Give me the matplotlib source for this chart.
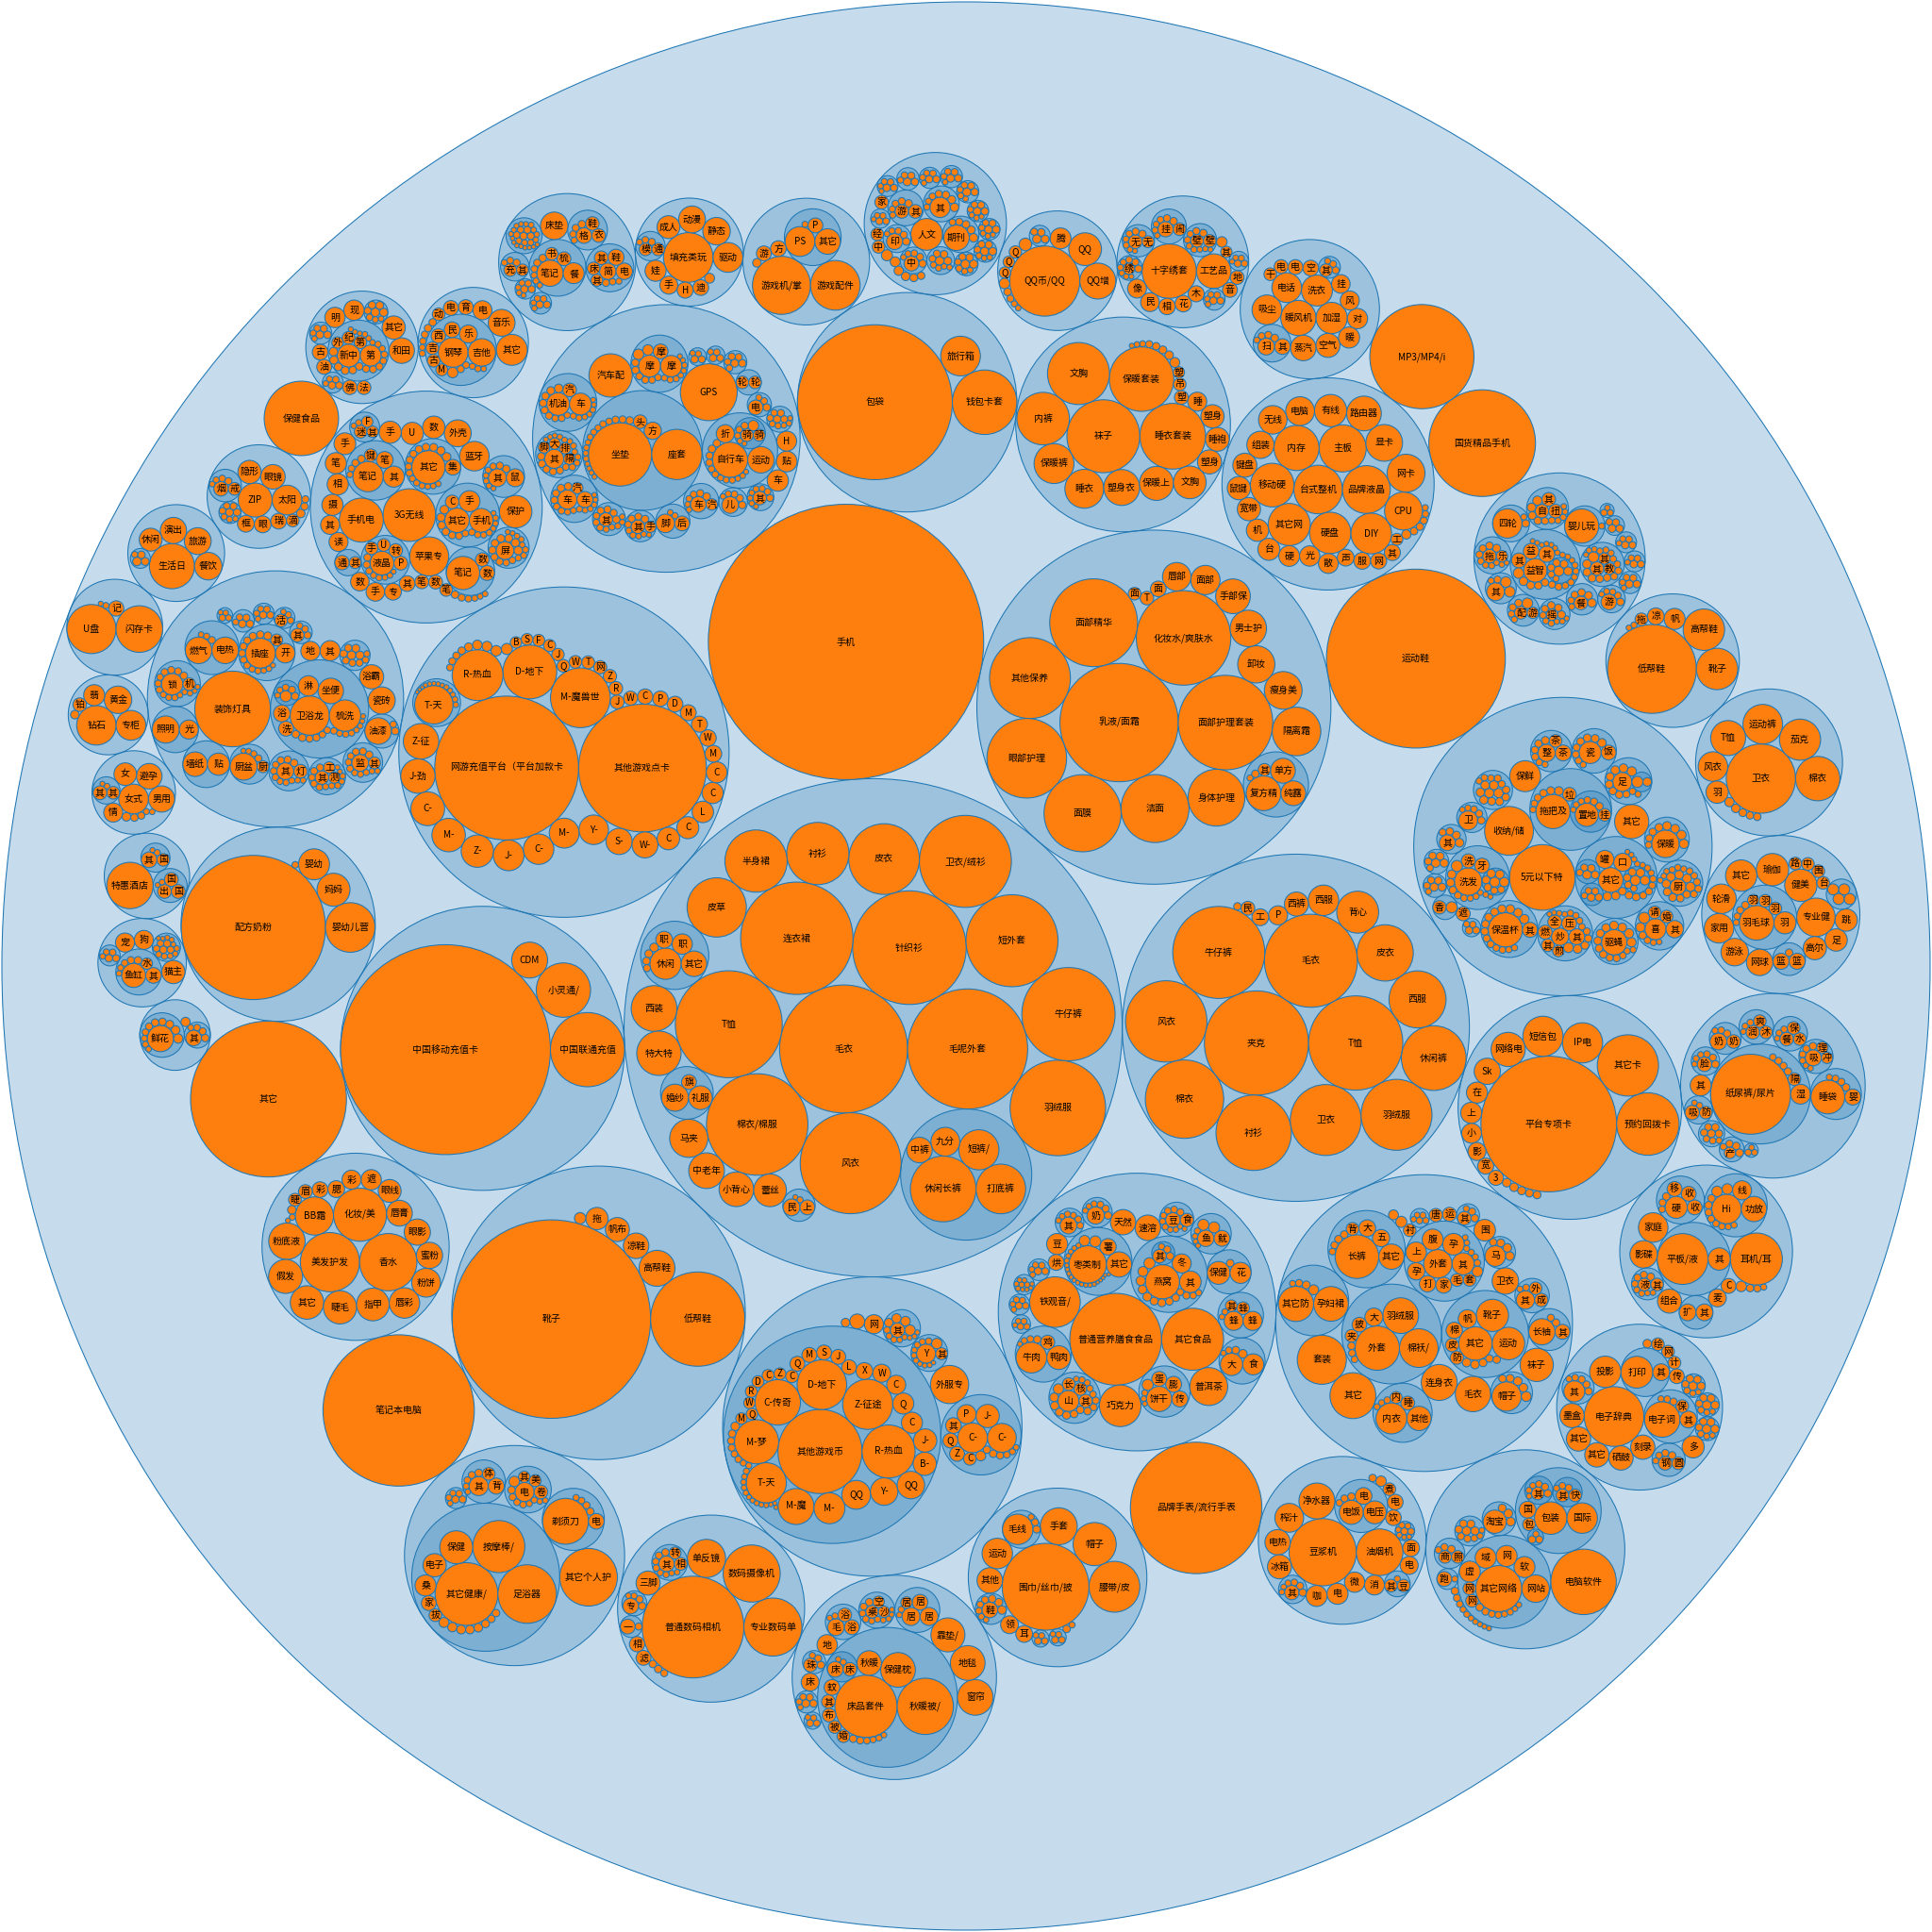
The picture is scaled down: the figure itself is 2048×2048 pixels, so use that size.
import math
import matplotlib
matplotlib.use("Agg")
import matplotlib.pyplot as plt
from matplotlib.patches import Circle
from matplotlib.collections import PatchCollection

# ---------------- data (leaf values; plain numbers = unlabeled tiny leaves) ----------------
WOMEN = [("毛衣", 2663), ("毛呢外套", 2343), ("针织衫", 2098), ("连衣裙", 2052), ("T恤", 1858),
         ("棉衣/棉服", 1673), ("风衣", 1656), ("羽绒服", 1482), ("牛仔裤", 1414), ("短外套", 1376),
         ("卫衣/绒衫", 1376), ("皮衣", 812), ("衬衫", 630), ("半身裙", 630), ("皮草", 571), ("西装", 340),
         ("特大特小", 320), ("马夹", 237), ("中老年服装", 207), ("小背心/吊带", 195), ("蕾丝衫", 174),
         ("裤子", [("休闲长裤", 702), ("打底裤", 400), ("短裤/热裤", 262), ("九分裤", 135), ("中裤/五分裤", 106)]),
         ("职业套装", [("休闲套装", 159), ("其它套装", 106), ("职业裙装", 67), ("职业裤装", 46), 12, 10, 9, 8]),
         ("礼服", [("婚纱", 119), ("礼服/晚装", 92), ("旗袍", 36)]),
         ("民族", [("民族服装", 46), ("上衣", 36), 6, 4])]

MEN = [("夹克", 1764), ("T恤", 1444), ("毛衣", 1406), ("牛仔裤", 1376), ("风衣", 1076), ("棉衣", 999),
       ("衬衫", 924), ("卫衣", 818), ("羽绒服", 818), ("休闲裤", 681), ("西服", 529), ("皮衣", 515),
       ("背心", 286), ("西服套装", 151), ("西裤", 94), ("POLO衫", 59), ("工装制服", 46), ("民族服装", 31), 9]

BEAUTY = [("乳液/面霜", 2275), ("面部护理套装", 1452), ("化妆水/爽肤水", 1452), ("面部精华", 1253),
          ("其他保养", 1063), ("眼部护理", 1030), ("面膜", 967), ("洁面", 751), ("身体护理", 524),
          ("隔离霜", 384), ("卸妆", 225), ("瘦身美体", 231), ("男士护理", 216), ("手部保养", 196),
          ("面部护理", 139), ("唇部护理", 132), ("面部", 40), ("面膜粉", 26), ("T区护理", 30),
          ("精油", [("复方精油", 196), ("纯露", 100), ("单方精油", 100), ("其它", 25), 9, 6])]

NETGAME = [("网游充值平台（平台加款卡）", 3364), ("其他游戏点卡", 2652), ("M-魔兽世界", 581),
           ("D-地下城与勇士", 471), ("R-热血江湖", 420),
           ("天", [("T-天龙八部", 240), 5, 5, 4, 4, 4, 3, 3, 3, 3, 3, 2, 2, 2]),
           ("Z-征途", 205), ("J-劲舞团", 192), ("C-传奇", 186), ("M-魔域", 182), ("Z-诛仙", 170),
           ("J-剑侠情缘", 154), ("C-穿越火线", 151), ("M-梦幻西游", 145), ("Y-永恒之塔", 142),
           ("S-神鬼传奇", 112), ("W-问道", 110), ("C-传奇外传", 82), ("C-赤壁", 79), ("L-龙之谷", 75),
           ("C-成吉思汗", 73), ("C-春秋", 71), ("M-魔力宝贝", 46), ("W-完美", 44), ("T-天下", 42),
           ("M-梦幻", 41), ("D-大话西游", 40), ("P-跑跑", 39), ("C-创世", 38), ("W-武林", 32),
           ("J-街头篮球", 31), ("R-热舞", 30), ("Z-征服", 29), ("网易一卡通", 28), ("T-天堂", 27),
           ("W-万王之王", 26), ("Q-QQ三国", 26), ("J-巨人", 25), ("C-传世", 24), ("F-封神", 23),
           ("S-水浒", 22), ("B-霸王", 21), ("S-仙剑", 20), ("X-寻仙", 18), ("X-新天", 16), ("P-破天", 15),
           11, 9, 8, 8, 7]

GAMECOIN = [("游戏币区", [("其他游戏币", 1150), ("R-热血江湖", 458), ("Z-征途", 408), ("D-地下城", 400),
                          ("C-传奇", 335), ("M-梦幻西游", 317), ("T-天龙八部", 262), ("M-魔兽世界", 210),
                          ("M-魔域", 156), ("QQ三国", 135), ("Y-永恒", 123), ("QQ华夏", 123), ("B-霸王", 88),
                          ("J-剑侠", 88), ("C-赤壁", 72), ("Q-奇迹", 72), ("C-春秋", 59), ("W-问道", 53),
                          ("X-寻仙", 46), ("L-龙之谷", 36), ("J-街头", 36), ("S-神鬼", 36), ("M-魔力", 36),
                          ("W-武林", 21), ("Q-倩女", 21), ("M-梦想", 21), ("Z-诛仙", 23), ("C-创世", 23),
                          ("C-传世", 26), ("D-大话", 23), ("R-热舞", 23), ("Q-QQ", 36), ("T-天下", 12),
                          9, 8, 8, 7, 7, 6, 6, 6, 5, 5, 5, 5, 4, 4, 4, 4, 4, 3, 3, 3]),
            ("外服专区", 237),
            ("币2", [("C-传奇", 144), ("C-CF", 135), ("J-剑侠", 88), ("P-跑跑", 59), ("Q-QQ", 36),
                     ("C-春秋", 26), ("Z-征途", 36), ("其它", 40), ("I", 16), 9, 9, 8, 7, 6, 5]),
            ("币3", [("Y-永恒", 59), ("M-魔兽", 18), ("其它", 23), 7, 6, 6, 5, 5, 5, 4, 4, 4, 3]),
            ("币4", [("其它", 34), ("M-魔力", 14), ("Y-永恒", 15), ("M-梦幻", 12), ("M-魔域", 18),
                     7, 6, 6, 5, 5, 4, 4, 4]),
            ("网页游戏", 59), 36, 12]

FOOD = [("普通营养膳食食品", 1369), ("其它食品", 625), ("铁观音/乌龙茶", 416), ("巧克力", 282), ("普洱茶", 234),
        ("枣", [("枣类制品", 228), ("其它", 104), ("薯片", 44), ("芒果干", 18), 20,
                4, 4, 4, 4, 4, 3, 3, 3, 3, 3, 3, 3, 3, 3, 3, 2, 2, 2, 2, 2]),
        ("燕", [("燕窝", 190), ("其它", 76), ("冬虫夏草", 59), ("其类", [("其它", 30), 9, 8, 6]), ("其它", 20),
                16, 14, 12, 12, 10, 10, 9, 9, 8, 8, 7, 6]),
        ("肉", [("牛肉干", 154), ("鸭肉", 92), ("鸡肉", 32), 9, 7, 6, 4]),
        ("饼", [("饼干", 104), ("传统糕点", 42), ("膨化食品", 41), ("蛋糕", 36), ("其它", 20), 6, 5, 4]),
        ("坚果", [("山核桃", 72), ("核桃", 26), ("其它", 29), ("长寿果", 26), ("香榧", 17),
                  12, 11, 10, 10, 9, 9, 9, 8, 8, 7, 7, 6, 6, 5]),
        ("蜂", [("蜂蜜", 59), ("蜂王浆", 59), ("蜂胶", 26), ("其它", 22), 6, 5]),
        ("茶", [("保健茶", 85), ("花草茶", 72), 9]),
        ("蟹", [("大闸蟹", 81), ("食用油", 72), 12, 9, 7, 5]),
        ("海", [("鱿鱼", 41), ("鱼干", 44), ("其它", 20), ("海参", 20), 6, 5, 4, 4]),
        ("天然粉", 104), ("速溶咖啡", 106),
        ("豆类", [("豆制品", 35), ("食用菌", 29), 8, 7, 7, 6, 6, 6, 5, 5, 4, 4]),
        ("奶", [("奶制品", 49), 9, 8, 7, 6, 5, 5]),
        ("其", [("其它", 46), 7, 7, 6, 6, 5, 5]),
        ("豆子", 72),
        ("零1", [5, 5, 4, 4, 4, 4, 3, 3, 3, 3]),
        ("烘焙", 41),
        ("零2", [8, 7, 6, 6, 5, 5]), ("零3", [9, 8, 7, 6, 5, 5]), ("零4", [7, 6, 6, 5, 4])]

KIDS = [("套装", 392), ("其它", 342), ("连身衣", 210), ("毛衣", 204), ("袜子", 180), ("卫衣", 114), ("围巾", 76),
        ("外", [("外套", 320), ("棉袄/棉服", 243), ("羽绒服", 207), ("大衣", 53), ("披风", 35), ("夹克", 26), 9, 8, 7]),
        ("鞋", [("其它", 182), ("运动鞋", 172), ("靴子", 169), ("帆布鞋", 55), ("棉鞋", 44), ("皮鞋", 29),
                ("防滑鞋", 29), 12, 12, 10, 9, 9]),
        ("裤", [("长裤", 310), ("其它", 104), ("五分裤", 48), ("大裤", 46), ("背带裤", 26), 9, 9, 8, 7]),
        ("孕", [("其它防辐射", 202), ("孕妇裙", 196), 16, 10, 8, 6]),
        ("孕服", [("外套", 132), ("孕妇裤", 76), ("其它", 79), ("上衣", 69), ("腹带", 72), ("毛衣", 26),
                  ("家居服", 41), ("打底裤", 44), ("孕妇装", 49), ("套装", 26), ("背心", 18), 7, 6, 6, 6, 5, 5]),
        ("内", [("内衣", 156), ("其他", 96), ("睡衣", 31), ("内裤", 23), 7, 6, 6]),
        ("帽", [("帽子", 140), 16, 12, 12, 10, 9]),
        ("袖", [("长袖", 112), ("其它", 36), 9, 8]),
        ("马", [("马甲", 69), 12, 12, 10, 9]),
        ("成", [("其它", 55), ("成人", 29), ("外套", 26), 7, 6]),
        ("其2", [("其它", 30), 9, 8, 6]),
        ("唐装", 29), ("运动服", 32), ("衬衫", 26), ("兜", [7, 6, 6, 5, 5]), ("肚兜", 16), 20]

HOME = [("5元以下特价商品", 700), ("收纳/储物", 388), ("其它", 190), ("保鲜", 156),
        ("卫", [("卫浴", 59), 9, 8, 7, 6, 5]),
        ("拖", [("拖把及配件", 190), ("置", [("置地清洁", 88), ("挂钩", 26), 9, 8, 7, 6, 6, 5]), ("垃圾桶", 30),
                12, 10, 9, 8, 7, 6]),
        ("洗", [("洗发水", 123), ("洗衣", 32), ("牙刷", 36), ("沐浴", 20), ("洗2", [16, 14, 12, 12, 10, 9, 8, 8]),
                12, 11, 9, 8, 7, 6, 6, 5, 5, 4]),
        ("日", [("其它", 100), ("口罩", 53), ("罐子", 53), ("日2", [16, 14, 12, 10, 9, 8, 7]),
                ("日3", [12, 10, 9, 8, 7]), ("日4", [10, 9, 8, 7, 6]),
                12, 11, 10, 9, 9, 8, 8, 7, 7, 6, 6, 5, 5, 5, 4, 4]),
        ("锅", [("炒锅", 49), ("其它", 41), ("全套", 32), ("压力锅", 36), ("煎锅", 21), ("蒸锅", 16), ("燃气灶", 32),
                ("其它锅", 26), 12, 10, 9, 8, 7, 7, 6, 6, 5, 5, 4, 4]),
        ("杯", [("保温杯", 190), ("其它", 37), 14, 12, 12, 11, 10, 10, 9, 9, 8, 8, 7, 7, 6, 6]),
        ("足", [("足浴", 59), ("沐", [("木桶", 12), ("沐浴露", 20)]), 14, 12, 12, 10, 10, 9, 9, 8, 7, 6]),
        ("喜", [("喜庆用品", 72), ("其它", 49), ("婚庆", 26), ("请柬", 26), ("气球", 20), ("孔明灯", 14), 9, 7, 6, 5]),
        ("驱", [("驱蝇/驱蚊", 104), 14, 14, 12, 12, 11, 10, 10, 9, 9, 8, 8, 7, 6, 6]),
        ("暖", [("保暖贴", 123), 14, 14, 12, 12, 10, 9, 8, 7]),
        ("厨", [("厨房用品", 41), 14, 13, 12, 12, 11, 10, 10, 9, 9, 8, 8, 8, 7, 7, 6, 6, 6, 5, 5, 5]),
        ("瓷", [("瓷器", 79), ("饭盒", 36), 12, 10, 10, 9, 8, 8, 7, 6]),
        ("茶", [("整套茶具", 49), ("茶杯", 41), ("茶盘", 26), 10, 9, 8, 8, 7, 6]),
        ("雨", [14, 14, 13, 12, 12, 11, 10, 10, 9, 9, 8, 8, 7, 7, 6]),
        ("其2", [("其它", 41), 12, 10, 9, 8]),
        ("小1", [12, 11, 10, 9, 8, 7]), ("小2", [11, 10, 9, 8, 7, 6]),
        ("香", [("香薰", 29), 20]), ("遮阳", 32), ("小3", [9, 8, 7, 6])]

SPORT = [("专业健身", 240),
         ("羽", [("羽毛球拍", 195), ("羽毛球", 79), ("羽毛球鞋", 26), ("羽毛球服", 21), ("羽毛球包", 26), 9, 8, 7, 6]),
         ("健美操", 170), ("瑜伽", 170), ("其它运动", 160), ("轮滑/滑板", 142), ("足球", 81), ("跳舞", 81),
         ("网球", 114), ("家用健身", 142), ("游泳", 123), ("篮", [("篮球", 42), ("篮球鞋", 42), 9]),
         ("高尔夫", 88), ("台球", 26), ("围棋", 26), ("中国象棋", 26), ("路跑", 26),
         ("乒", [("乒乓球拍", 20), ("乒乓球", 20), ("乒乓球台", 20), ("乒乓球鞋", 20)])]

BABY = [("尿", [("纸尿裤/尿片", 1040), ("隔尿垫", 26), ("湿巾", 64), 9, 8, 8, 7]),
        ("睡", [("睡袋", 185), ("婴儿床", 42), 9, 8, 7, 6]),
        ("喂", [("水杯", 26), ("餐具", 30), ("保温", 26), 7, 6, 5]),
        ("沐", [("沐浴", 26), ("润肤", 30), ("爽身粉", 26), 7, 6, 5]),
        ("吸", [("吸奶器", 42), ("冲奶", 21), ("理发", 21), 9, 8, 7, 6, 5, 5]),
        ("奶", [("奶瓶", 46), ("奶嘴", 30), 8, 7, 6]),
        ("防", [("吸管", 34), ("防溢乳垫", 26), 6, 5]),
        ("脸", [("脸盆", 34), 9, 8, 7, 6, 6, 5]),
        ("其它", 72),
        ("产", [("产妇用品", 21), 10, 9, 8, 7]),
        ("小", [10, 9, 9, 8, 8, 7, 7, 6]), ("小2", [7, 6, 5])]

OFFICE = [("电子辞典", 580), ("投影", 160),
          ("电", [("电子词典", 205), ("其它", 46), ("保险箱", 26), 8, 7, 6]),
          ("打", [("打印机", 165), ("其它", 46)]),
          ("钢", [("钢笔", 30), ("圆珠笔", 26), 9, 8, 7, 6]),
          ("墨盒", 96), ("多功能", 80), ("其它", 96), ("其它2", 96), ("硒鼓", 96), ("刻录", 96),
          ("其3", [("其它", 72), 9, 8, 8, 7, 6]),
          ("计算器", 26), ("网络", 26), ("传真", 36), ("绘图", 26),
          ("小1", [12, 10, 9, 9, 8, 7, 6, 5]), ("小2", [12, 11, 10, 9, 8, 7, 6, 5]),
          ("小3", [12, 11, 10, 9, 8, 7, 6, 5]), ("与", 12)]

DIGITAL = [("耳机/耳麦", 440), ("平", [("平板/液晶电视", 420), ("其他", 81)]),
           ("家庭影院", 142), ("影碟机", 123), ("组合音响", 94), ("麦克风", 52), ("CD机", 36), 18, 9, 8, 6,
           ("扩", [("扩音器", 46), ("其它", 46)]),
           ("液", [("液晶配件", 26), ("其它", 26), 9, 8, 8, 7, 6, 6, 5, 5]),
           ("硬", [("硬盘播放器", 79), ("收音机", 36), ("收录机", 36), ("移动", 36), 9, 8, 7]),
           ("Hi", [("Hi-Fi音响", 142), ("功放", 104), ("线材", 59), ("调音台", 18), ("HDMI", 18),
                   9, 9, 8, 8, 7, 7, 6, 6])]

NETSERV = [("电脑软件", 697),
           ("网", [("其它网络服务", 346), ("网站建设", 123), ("软件开发", 72), ("网店装修", 72), ("域名", 72),
                   ("虚拟主机", 72), ("网络推广", 26), ("网游代练", 26), 9, 8, 7, 7, 6, 6, 5, 5]),
           ("包", [("包装设计", 172), ("国际快递", 151), ("国内快递", 46), ("包裹", 26),
                   ("快", [("其它", 26), ("快递", 26), 8, 7, 6]), ("其", [("其它", 26), 9, 8, 7, 6, 6, 5]),
                   ("小", [9, 8, 6])]),
           ("淘", [("淘宝服务", 88), 12, 12, 10]),
           ("商", [("商务服务", 26), ("照片冲印", 26), 9, 8, 7]),
           ("跑", [("跑腿服务", 36), 6]),
           ("小", [12, 11, 10, 9, 9, 8, 8, 7, 6, 5]),
           9, 8, 7, 6, 6, 5, 5, 4, 4, 4]

KITCHEN = [("豆浆机", 734), ("油烟机", 353), ("净水器", 210), ("榨汁机", 135), ("电热水壶", 104), ("冰箱", 94),
           ("咖啡机", 72), ("电饼铛", 72), ("消毒柜", 64), ("微波炉", 67), ("电磁炉", 53), ("面包机", 46),
           ("饮水机", 40), ("电烤箱", 40), ("煮蛋器", 26),
           ("饭", [("电饭煲", 94), ("电压力锅", 85), ("电炖锅", 46), 9, 8, 7]),
           ("其", [("其它", 34), 9, 8, 7, 6, 5, 5]),
           ("豆", [("其它", 26), ("豆芽机", 26), 6]),
           ("小", [8, 7, 6, 6, 5, 5, 4, 4]), ("酸奶机", 18), 9]

RECHARGE = [("平台专项卡", 2992), ("预约回拨卡", 635), ("其它卡", 610), ("IP电话卡", 262), ("短信包", 262),
            ("网络电话", 190), ("Skype", 112), ("在线", 72), ("小灵通", 64), ("上网卡", 72), ("影视卡", 53),
            ("3G卡", 37), ("宽带", 42), 12, 12, 11, 10, 10]

MENSHOES = [("低帮鞋", 1282), ("靴子", 279), ("高帮鞋", 279), ("帆布鞋", 72), ("凉鞋", 46), ("拖鞋", 26), 6, 5]

SPORTSWEAR = [("卫衣", 780), ("棉衣", 320), ("茄克", 275), ("运动裤", 255), ("T恤", 199), ("风衣", 142),
              ("羽绒服", 81), 14, 12, 10, 9, 9]

TOYS = [("婴", [("婴儿玩具", 190), 6]), ("四", [("四轮车", 140), 9, 6]),
        ("益", [("益智玩具", 90), ("益智", 40), ("其它", 42), ("其它2", 36), ("拼图", 18),
                ("益2", [16, 12, 10, 9, 8, 7, 6]), 12, 10, 9, 9, 8, 8, 7, 7, 6, 6, 6, 5, 5, 5, 5, 4, 4, 4, 4, 4, 4]),
        ("自", [("自动玩具", 30), ("扭扭车", 30), ("其它", 30), 14, 12, 10, 9, 8, 7, 6, 6, 5, 5]),
        ("早", [("早教", 18), ("教具", 21), ("其它", 21), ("其它2", 30), 12, 10, 10, 9, 9, 8, 8, 7, 7, 6, 6, 6, 5, 5, 4]),
        ("配", [("配件", 26), ("游戏", 21), ("层", 18), 9, 8, 7, 6]),
        ("拖", [("拖拉玩具", 30), ("乐器玩具", 21), 10, 9, 8, 8, 7, 6, 6, 5, 5, 4]),
        ("摇", [("摇铃", 21), 10, 9, 9, 8, 7, 6, 6, 5, 5, 4]),
        ("餐", [("餐椅", 30), 12, 10, 9, 8, 7, 6]),
        ("游", [("游戏围栏", 40), 9, 7, 6, 6, 5]),
        ("背", [("背带", 18), ("出行", 18), ("其它", 52), 8, 6]),
        ("小1", [9, 8, 7, 6, 5]), ("小2", [10, 9, 8, 7]), ("小3", [7, 6, 5]),
        ("小4", [10, 9, 8, 7, 6, 5]), ("小5", [9, 8, 7, 6, 5])]

PC = [("品牌液晶", 372), ("台式整机", 384), ("主板", 361), ("内存", 331), ("硬盘", 279), ("DIY", 269),
      ("其它网络设备", 289), ("移动硬盘", 310), ("CPU", 234), ("网卡", 234), ("显卡", 219), ("路由器", 196),
      ("有线", 169), ("组装电脑", 121), ("电脑周边", 135), ("无线", 132), ("台机", 79), ("键盘", 94),
      ("鼠键套装", 88), ("宽带", 88), ("机箱", 81), ("硬盘盒", 70), ("光驱", 67), ("散热器", 64), ("声卡", 46),
      ("服务器", 46), ("网络存储", 42), ("其它", 42), ("工控机", 23), ("电源", 14), 9, 9, 8, 7, 6]

UNDERWEAR = [("袜子", 864), ("睡衣套装", 702), ("保暖套装", 676), ("文胸", 625), ("内裤", 449), ("保暖裤", 259),
             ("睡衣", 246), ("塑身衣", 210), ("保暖上衣", 188), ("文胸套装", 174), ("塑身裤", 94), ("睡袍", 92),
             ("塑身上衣", 88), ("睡裙", 59), ("塑身腰", 31), ("塑身", 21), ("吊带", 26), 16, 12, 10, 9, 8, 6, 5, 4]

CAR = [("坐", [("坐垫", 650), ("座套", 410), ("方向盘套", 49), ("头枕", 30),
               9, 8, 8, 7, 7, 6, 6, 6, 5, 5, 5, 5, 4, 4, 4, 4]),
       ("GPS", 525), ("汽车配件", 305),
       ("自", [("自行车", 200), ("运动", 114), ("折叠车", 53),
               ("骑", [("骑行服", 23), ("骑行包", 26), ("手套", 18), 8, 7, 6, 5, 4]), 9, 9, 8, 8, 7, 7, 6, 6, 6, 5, 5, 4]),
       ("机", [("机油", 84), ("车蜡", 78), ("汽车", 30), 12, 10, 9, 9, 8, 8, 7, 7, 6, 6, 6, 5, 5, 5, 4, 4]),
       ("摩", [("摩托车", 74), ("摩托配件", 78), ("摩托服", 36), ("赛车", 18), ("骑士", 18),
               9, 9, 8, 8, 7, 7, 6, 6, 6, 5, 5, 5, 4, 4]),
       ("隔", [("其它", 59), ("隔热膜", 21), ("排气", 21), ("大灯", 21), ("脚踏", 21),
               9, 9, 8, 8, 8, 7, 7, 6, 6, 6, 6, 5, 5, 5, 4, 4, 4]),
       ("载", [("车载电器", 59), ("车充", 42), ("汽车香水", 21), 9, 9, 8, 8, 7, 7, 6, 6, 6, 5, 5, 5, 4, 4]),
       ("脚", [("脚垫", 56), ("后备箱垫", 36), 6, 5]),
       ("饰", [("车饰", 40), ("汽车用品", 21), 9, 8, 7, 6, 5, 5]),
       ("其1", [("其它", 30), 9, 8, 8, 8, 7, 7, 7, 6, 6, 6, 5, 5]),
       ("其2", [("其它", 30), ("手机支架", 21), 9, 8, 8, 7, 6, 6, 5, 5, 4]),
       ("其3", [("其它", 30), 8, 7, 6, 6, 5, 5, 5, 4]),
       ("电", [("电子狗", 36), 9, 7, 6]),
       ("儿", [("儿童座椅", 46), 9, 8, 7, 6, 5]),
       ("贴纸", 70), ("HID", 65), ("车衣", 74),
       ("轮", [("轮胎", 26), ("轮毂", 26)]),
       ("小1", [10, 9, 8, 8, 7, 7]), ("小2", [9, 8, 6, 5]), ("小3", [9, 8, 7, 6]),
       ("小4", [9, 8, 8, 7, 7, 6, 6, 5, 5, 4])]

PHONEACC = [("3G无线上网卡", 450), ("手机电池", 315), ("苹果专用配件", 248), ("保护套", 172), ("外壳", 118),
            ("蓝牙耳机", 142),
            ("其1", [("其它", 180), ("集线器", 40), 12, 11, 10, 9, 9, 8, 8, 7, 7, 6, 6, 6, 5, 5, 5]),
            ("手", [("手机贴膜", 92), ("手写笔", 72), ("其它", 98), ("CF卡", 30),
                    12, 11, 10, 9, 8, 8, 7, 7, 6, 6, 6, 5, 5, 5, 4]),
            ("笔", [("笔记本电池", 150), ("其它", 72), ("键盘膜", 26), ("笔记本包", 46), 9, 8, 7, 6]),
            ("液", [("液晶保护", 92), ("U盘", 26), ("PDA", 31), ("转接头", 30), ("手机链", 26), 9, 8, 7, 6, 6, 5, 5, 4]),
            ("鼠", [("其它", 52), ("鼠标", 52), 9, 8, 7, 6, 5, 5, 5, 4]),
            ("屏", [("屏幕保护", 52), 12, 11, 10, 10, 9, 9, 8, 8, 7, 7, 6, 6, 6, 5, 5, 5, 4, 4]),
            ("迷", [("迷你音箱", 26), ("其它", 21), ("FM", 21), 6, 5]),
            ("笔2", [("笔记本散热", 180), ("数码包", 36), ("数据线", 30)]),
            ("USB", 80), ("笔记本支架", 73), ("手机挂件", 77), ("相机包", 73), ("数码贴纸", 56), ("摄像头", 73),
            ("数码伴侣", 82), ("手写板", 80), ("通", [("通讯", 34), ("其它", 23)]),
            ("其它", 59), ("读卡器", 59), ("手机座充", 56), ("专用充电器", 46), ("其它2", 40), ("笔记本锁", 31),
            ("数码相框", 31), ("笔记本灯", 26), 9, 8, 7, 6, 5, 5]

DECOR = [("装饰灯具", 930),
         ("卫", [("卫浴龙头", 250), ("梳洗", 160), ("坐便器", 106), ("淋浴房", 67), ("浴缸", 46), ("洗手盆", 36),
                 ("座", [("座便盖", 20), 9, 8, 7, 6, 5]), 9, 9, 8, 8, 7, 7, 7, 6, 6, 6, 5, 5, 4, 4]),
         ("插", [("插座", 145), ("开关", 62), ("其它", 23), 10, 9, 9, 8, 8, 8, 7, 7, 6, 6, 5, 5, 4]),
         ("热", [("燃气热水器", 115), ("电热水器", 115), 8, 6, 5]),
         ("浴霸", 95), ("瓷砖", 120), ("漆", [("油漆", 115), 9, 7]),
         ("监", [("监控", 46), ("其它", 23), 9, 8, 8, 7, 7, 7, 6, 6, 6, 5, 5]),
         ("地板", 60), ("其它", 66), ("活", [("活页", 26), 7, 6, 5]),
         ("小1", [9, 8, 7, 6, 6, 5]), ("小2", [7, 6, 5, 4]),
         ("灯", [("其它", 46), ("灯泡", 30), 9, 8, 8, 7, 7, 7, 6, 6, 6, 5, 5]),
         ("照", [("照明灯", 120), ("光源", 59)]),
         ("厨", [("厨盆", 118), ("厨房挂件", 23), 8, 6, 5, 4]),
         ("墙", [("墙纸", 98), ("贴纸", 80)]),
         ("锁", [("锁具", 75), ("机械锁", 26), 9, 8, 8, 8, 7, 7, 7, 6, 6, 6, 5, 5, 5, 4, 4]),
         ("工", [("其它", 30), ("测量工具", 21), ("工具箱", 21), 8, 8, 7, 7, 7, 6, 6, 6, 5, 5, 4, 4]),
         ("其2", [("其它", 30), 8, 7, 6]), ("小3", [12, 11, 10, 9, 9, 8, 8, 8, 7, 6]),
         ("小4", [10, 9, 8, 7, 6])]

MOBILE = [("中国移动充值卡", 7157), ("中国联通充值卡", 894), ("小灵通/固话", 480), ("CDMA", 210)]
MILK = [("配方奶粉", 3380), ("婴幼儿营养品", 400), ("妈妈营养品", 177), ("婴幼儿辅食", 156), 7]
BOOTS = [("靴子", 6400), ("低帮鞋", 1444), ("高帮鞋", 210), ("凉鞋", 106), ("帆布鞋", 94), ("拖鞋", 81), 21]
BAGS = [("包袋", 3900), ("钱包卡套", 676), ("旅行箱", 256)]

MAKEUP = [("美发护发", 571), ("香水", 534), ("化妆/美容工具", 458), ("BB霜", 237), ("粉底液", 216), ("假发", 188),
          ("其它彩妆", 182), ("指甲油", 174), ("睫毛膏", 180), ("唇彩", 151), ("粉饼", 135), ("蜜粉", 112),
          ("眼影", 112), ("唇膏", 108), ("眼线", 85), ("遮瑕", 67), ("彩妆套装", 59), ("腮红", 46),
          ("彩妆盘", 40), ("眉笔", 31), ("睫毛夹", 26), 12, 6, 4]

CARE = [("健", [("其它健康/保健", 640), ("足浴器", 557), ("按摩棒/按摩器", 441), ("保健仪器", 177), ("电子秤", 88),
                ("桑拿", 72), ("家用", 36), ("拔罐", 26), 16, 14, 13, 12, 12, 10, 9, 9]),
        ("其它个人护理", 540),
        ("剃", [("剃须刀", 342), ("电动牙刷", 40), 9, 8, 7, 6]),
        ("体", [("其它", 59), ("背部", 42), ("体重秤", 26), 9, 8, 7, 6, 5]),
        ("发", [("电吹风", 59), ("卷发器", 30), ("美容", 23), ("美发", 18), ("其它", 21), 9, 8, 7, 7, 6, 6, 5, 5]),
        ("小", [9, 8, 7, 6, 6, 5])]

CAMERA = [("普通数码相机", 1681), ("专业数码单反", 548), ("数码摄像机", 530), ("单反镜头", 237), ("三脚架", 94),
          ("配", [("其它", 40), ("相机包", 26), ("转接环", 23), 9, 8, 7, 7, 6, 6, 5, 5]),
          ("专", [("专业", 40), 9, 8, 6, 5]), ("一", [("一次性", 36), 8]),
          ("相纸", 38), ("滤镜", 36), 9, 9, 8]

SCARF = [("围巾/丝巾/披肩", 1225), ("腰带/皮带", 420), ("帽子", 303), ("手套", 222),
         ("毛", [("毛线", 151), 9, 8, 6]), ("运动", 151), ("其他", 106),
         ("鞋", [("鞋垫", 40), 12, 10, 9, 8, 7, 7, 6, 5]),
         ("耳套", 46), ("领带", 52), ("小1", [8, 7, 6, 5]), ("小2", [8, 7, 6, 5]), 9, 6]

BEDDING = [("床", [("床品套件", 630), ("秋暖被/冬被", 515), ("保健枕", 196), ("秋暖", 98),
                   ("床2", [("床单", 40), ("床罩", 30), 6, 5]), ("蚊帐", 40), ("被套", 26), ("婚庆", 26),
                   ("其它", 30), ("布艺", 30), 9, 8, 7, 6, 6, 5]),
           ("地毯", 196), ("靠垫/抱枕", 188), ("窗帘", 207),
           ("浴", [("毛巾", 46), ("浴巾", 36), ("浴袍", 30), 6, 5]),
           ("居", [("居家鞋", 53), ("居家服", 53), ("居家", 40), ("居", 21), 6, 5]),
           ("桌", [("桌布", 26), ("沙发垫", 21), ("空调被", 21), 9, 8, 7, 7, 6, 6, 5, 5, 4, 4]),
           ("地垫", 67), ("珠", [("珠帘", 30), 9, 8, 6]), ("床垫", 52),
           ("小1", [10, 9, 8, 7, 6, 5]), ("小2", [8, 7, 6, 5])]

BOOKS = [("人文", 164), ("刊", [("期刊", 106), 12, 10, 9, 8, 7]),
         ("其", [("其它", 67), 12, 10, 9, 8, 7, 6, 6]),
         ("游", [("游戏", 30), ("其它", 30), 9, 8, 7, 6, 6]),
         ("印", [("印刷", 42), 9, 8, 7, 6, 5]), ("中", [("中小学", 36), 9, 8, 7, 6, 5]),
         ("家居", 30), ("公务", 20), ("经济", 26), ("中医", 26),
         ("小1", [12, 10, 9, 8, 7, 6, 6, 5, 5]), ("小2", [11, 10, 9, 8, 7, 6, 5, 5]),
         ("小3", [12, 11, 9, 8, 7, 7, 6, 5]), ("小4", [10, 9, 8, 7, 6, 5, 5, 4]),
         ("小5", [11, 9, 8, 7, 6, 6, 5]), ("小6", [10, 9, 8, 7, 6, 5]), ("小7", [9, 8, 7, 6, 5, 4]),
         ("小8", [9, 8, 7, 6, 6, 5]), ("小9", [10, 9, 8, 7, 6]), ("小10", [8, 7, 6, 5, 4]),
         ("小11", [10, 9, 8, 7, 6, 5, 5, 4]),
         16, 14, 12, 10, 9]

QQ = [("QQ币/QQ卡", 800), ("QQ增值服务", 210), ("QQ会员", 174), ("腾讯", 71), ("Q币", 25), ("QQ秀", 21),
      ("QQ宠物", 21), ("小", [12, 10, 9, 8]), 26, 18, 9, 8, 6, 5]

CROSS = [("十字绣套件", 480), ("工艺品", 195),
         ("无", [("无框画", 30), ("无缝", 23), 9, 8, 7, 6, 6, 5, 4]),
         ("壁", [("壁画", 26), ("壁饰", 26), 9, 8, 7, 7, 6, 6, 5, 5, 4]),
         ("挂", [("挂钟", 38), ("闹钟", 26), 9, 8, 7, 6, 6, 5]),
         ("绣", [("绣品", 21), 9, 8, 7, 6, 6, 5, 5, 4]),
         ("小1", [9, 8, 7, 6, 5, 5]), ("小2", [8, 7, 6, 5, 4]),
         ("像框", 58), ("民间", 57), ("木雕", 42), ("相框", 44), ("音乐盒", 36), ("花瓶", 44), ("地球仪", 31),
         ("其它", 21), 18]

APPLIANCE = [("暖风机", 202), ("加湿器", 159), ("电话机", 144), ("吸尘器", 144), ("洗衣机", 156),
             ("蒸汽挂烫机", 106), ("空气净化器", 94), ("暖手宝", 72), ("对讲机", 67), ("挂烫机", 56), ("风扇", 59),
             ("空调", 40), ("电吹风", 31), ("干衣机", 26), ("电熨斗", 36),
             ("扫", [("扫地机", 46), ("其它", 40), 9, 8, 7, 6]), ("其", [("其它", 26), 8, 7, 6])]

CONSOLE = [("游戏机/掌机", 548), ("游戏配件", 400), ("PS", [("PSP", 144), ("其它", 106), ("PS3", 36), 6]),
           ("方向盘", 40), ("游戏软件", 36), 12]

ANIME = [("填充类玩具", 400), ("驱动", 144), ("静态", 123), ("动漫", 117), ("成人", 85),
         ("模", [("模型", 26), ("通用", 26), 8, 7, 6]), ("娃娃", 72), ("H", 42), ("手办", 53), ("迪士尼", 40), 16]

DORM = [("笔", [("笔记本桌", 112), ("餐桌", 71), ("梳妆台", 31), ("书架", 26), 9, 8, 7, 6, 6, 5]),
        ("床", [("简易衣柜", 44), ("其它", 30), ("电脑桌", 44), ("鞋柜", 42), ("床头柜", 26), ("其它2", 23), 8, 7, 6]),
        ("床垫", 123),
        ("鞋", [("格子柜", 40), ("衣帽架", 30), ("鞋架", 30), 9, 8, 7, 6]),
        ("充", [("充气床", 26), ("其它", 23), 8, 7, 6]),
        ("小1", [9, 8, 8, 7, 7, 6, 6, 6, 5, 5, 5, 5, 4, 4, 4, 4, 4, 3, 3, 3, 3, 3, 3, 3, 3]),
        ("小2", [9, 8, 7, 6, 5, 5]), ("小3", [9, 8, 7, 6, 5, 5, 4])]

ANTIQUE = [("新", [("新中国", 85), ("第一套", 72), ("第二套", 26), ("纪念币", 26), ("外国", 21),
                   12, 11, 10, 10, 9, 9, 8, 8, 8, 7, 7, 6, 6, 5, 5, 5, 4, 4, 4]),
           ("和田玉", 106), ("其它", 88), ("佛像", 34), ("法器", 31), ("现代", 67), ("明清", 67), ("油画", 36),
           ("古籍", 40), ("小1", [9, 8, 7, 6, 5]), ("小2", [12, 11, 10, 9, 8, 7, 6, 5]), ("小3", [10, 9, 8, 7, 6, 5])]

MUSIC = [("琴", [("钢琴", 144), ("吉他", 123), ("民族乐器", 40), ("乐器配件", 53), ("西洋乐器", 34), ("吉他配件", 26),
                 ("古筝", 26), ("小提琴", 18), ("MIDI", 23), 8, 7, 6, 6, 5]),
         ("音乐", 117), ("其它", 156), ("电子琴", 59), ("育音", 36), ("电吉他", 36), ("动漫音乐", 26), 9, 9, 8, 7, 6, 6]

GLASSES = [("ZIPPO", 188), ("太阳镜", 144), ("眼镜架", 98), ("隐形眼镜", 88),
           ("烟", [("烟具", 34), ("戒烟", 26), 8, 7, 6, 5]),
           ("框架", 46), ("瑞士军刀", 40), ("眼镜片", 46), ("滴眼液", 26), ("小", [10, 9, 8, 7, 7, 6, 6, 5]), 12, 9, 8]

TRAVEL = [("生活日用", 331), ("旅游", 117), ("餐饮", 123), ("演出", 112), ("休闲", 85), ("小", [12, 10, 9, 6])]
STORAGE = [("U盘", 392), ("闪存卡", 353), ("记忆棒", 38), 6, 4]
JEWEL = [("钻石", 253), ("黄金", 123), ("专柜", 144), ("翡翠", 72), ("铂金", 30), 12]
ADULT = [("女式", 144), ("男用", 112), ("避孕", 106), ("女用", 83), ("情趣", 59),
         ("其", [("其它", 31), ("其它2", 26), 5, 4]), 12, 9, 8, 6, 5]
HOTEL = [("特惠酒店", 350), ("出", [("出境游", 31), ("国内", 31), ("国际", 31), 5, 4]),
         ("国", [("国内", 26), ("其它", 40), 6, 4])]
PET = [("鱼", [("鱼缸", 94), ("其它", 40), ("水族", 21), 9, 8, 7, 6, 5]), ("猫主粮", 88), ("狗", 59), ("宠物", 59),
       ("小1", [9, 8, 7, 6, 5]), ("小2", [9, 8, 8, 7, 7, 6, 6, 5, 5, 5, 4, 4, 4, 3, 3])]
FLOWER = [("花", [("鲜花", 112), 14, 12, 10, 9, 9, 8, 7, 6, 6, 5]), ("其", [("其它", 40), 9, 8, 7, 6]), 14]

TOP = [("手机", 12321), ("运动鞋", 5200), ("其它", 3950), ("笔记本电脑", 3721), ("品牌手表/流行手表", 2809),
       ("国货精品手机", 1849), ("MP3/MP4/iPod", 1764), ("保健食品", 900),
       ("女装", WOMEN), ("男装", MEN), ("美容护肤", BEAUTY), ("网游点卡", NETGAME), ("游戏币", GAMECOIN),
       ("食品", FOOD), ("童装", KIDS), ("居家日用", HOME), ("运动", SPORT), ("婴儿用品", BABY), ("办公", OFFICE),
       ("影音", DIGITAL), ("网络服务", NETSERV), ("厨房电器", KITCHEN), ("充值", RECHARGE), ("男鞋", MENSHOES),
       ("运动服", SPORTSWEAR), ("玩具", TOYS), ("电脑配件", PC), ("内衣", UNDERWEAR), ("汽车用品", CAR),
       ("手机配件", PHONEACC), ("家装", DECOR), ("话费", MOBILE), ("奶粉", MILK), ("女鞋", BOOTS), ("箱包", BAGS),
       ("彩妆", MAKEUP), ("个人护理", CARE), ("数码相机", CAMERA), ("服饰配件", SCARF), ("家纺", BEDDING),
       ("书籍", BOOKS), ("QQ", QQ), ("十字绣", CROSS), ("小家电", APPLIANCE), ("游戏机", CONSOLE),
       ("动漫", ANIME), ("家具", DORM), ("收藏", ANTIQUE), ("乐器", MUSIC), ("眼镜", GLASSES), ("旅游", TRAVEL),
       ("存储", STORAGE), ("珠宝", JEWEL), ("成人", ADULT), ("酒店", HOTEL), ("宠物", PET), ("鲜花", FLOWER)]

DIAMETER = 2048


# ---------------- d3 v3 pack layout ----------------
class Node:
    __slots__ = ("name", "value", "children", "r", "x", "y", "nx", "pv")

    def __init__(self, name):
        self.name = name
        self.value = 0.0
        self.children = None
        self.r = self.x = self.y = 0.0
        self.nx = self.pv = None


def build(name, spec):
    node = Node(name)
    if isinstance(spec, list):
        kids = []
        for it in spec:
            if isinstance(it, tuple):
                kids.append(build(it[0], it[1]))
            else:
                kids.append(build("", it))
        kids.sort(key=lambda c: -c.value)
        node.children = kids
        node.value = sum(c.value for c in kids)
    else:
        node.value = float(spec)
    return node


def intersects(a, b):
    dx = b.x - a.x
    dy = b.y - a.y
    dr = a.r + b.r
    return 0.999 * dr * dr > dx * dx + dy * dy


def place(a, b, c):
    db = a.r + c.r
    dx = b.x - a.x
    dy = b.y - a.y
    if db and (dx or dy):
        da = b.r + c.r
        dc = dx * dx + dy * dy
        da *= da
        db *= db
        x = 0.5 + (db - da) / (2 * dc)
        t = db - dc
        y = math.sqrt(max(0.0, 2 * da * (db + dc) - t * t - da * da)) / (2 * dc)
        c.x = a.x + x * dx + y * dy
        c.y = a.y + x * dy - y * dx
    else:
        c.x = a.x + db
        c.y = a.y


def insert(a, b):
    c = a.nx
    a.nx = b
    b.pv = a
    b.nx = c
    c.pv = b


def splice(a, b):
    a.nx = b
    b.pv = a


def pack_siblings(node):
    nodes = node.children
    if not nodes:
        return
    n = len(nodes)
    bb = [math.inf, -math.inf, math.inf, -math.inf]

    def bound(q):
        bb[0] = min(q.x - q.r, bb[0])
        bb[1] = max(q.x + q.r, bb[1])
        bb[2] = min(q.y - q.r, bb[2])
        bb[3] = max(q.y + q.r, bb[3])

    for q in nodes:
        q.nx = q.pv = q
    a = nodes[0]
    a.x = -a.r
    a.y = 0.0
    bound(a)
    if n > 1:
        b = nodes[1]
        b.x = b.r
        b.y = 0.0
        bound(b)
        if n > 2:
            c = nodes[2]
            place(a, b, c)
            bound(c)
            insert(a, c)
            a.pv = c
            insert(c, b)
            b = a.nx
            i = 3
            guard = 0
            while i < n:
                guard += 1
                if guard > 200000:
                    break
                c = nodes[i]
                place(a, b, c)
                isect = False
                s1 = 1
                s2 = 1
                j = b.nx
                while j is not b:
                    if intersects(j, c):
                        isect = True
                        break
                    j = j.nx
                    s1 += 1
                k = None
                if isect:
                    k = a.pv
                    while k is not j.pv:
                        if intersects(k, c):
                            break
                        k = k.pv
                        s2 += 1
                if isect:
                    if s1 < s2 or (s1 == s2 and b.r < a.r):
                        b = j
                        splice(a, b)
                    else:
                        a = k
                        splice(a, b)
                else:
                    insert(a, c)
                    b = c
                    bound(c)
                    i += 1
    cx = (bb[0] + bb[1]) / 2
    cy = (bb[2] + bb[3]) / 2
    cr = 0.0
    for q in nodes:
        q.x -= cx
        q.y -= cy
        cr = max(cr, q.r + math.sqrt(q.x * q.x + q.y * q.y))
    node.r = cr
    for q in nodes:
        q.nx = q.pv = None


def visit_after(node, fn):
    if node.children:
        for ch in node.children:
            visit_after(ch, fn)
    fn(node)


def set_r(d):
    d.r = math.sqrt(d.value)


def transform(node, x, y, k):
    node.x = x = x + k * node.x
    node.y = y = y + k * node.y
    node.r *= k
    if node.children:
        for ch in node.children:
            transform(ch, x, y, k)


root = build("root", list(TOP))
w = h = DIAMETER - 4
visit_after(root, set_r)
visit_after(root, pack_siblings)
root.x = root.y = 0.0
transform(root, w / 2 + 2, h / 2 + 2, 1 / max(2 * root.r / w, 2 * root.r / h))

# ---------------- draw ----------------
fig = plt.figure(figsize=(DIAMETER / 100, DIAMETER / 100), dpi=100)
fig.patch.set_facecolor("white")
ax = fig.add_axes([0, 0, 1, 1])
ax.set_xlim(0, DIAMETER)
ax.set_ylim(DIAMETER, 0)
ax.set_aspect("equal")
ax.axis("off")

blue = (31 / 255, 119 / 255, 180 / 255)
patches, fcs, ecs, labels = [], [], [], []


def collect(node):
    patches.append(Circle((node.x, node.y), node.r))
    if node.children:
        fcs.append(blue + (0.25,))
        ecs.append(blue + (1.0,))
        for ch in node.children:
            collect(ch)
    else:
        fcs.append("#ff7f0e")
        ecs.append(blue + (1.0,))
        txt = node.name[: int(node.r / 6)]
        if txt:
            labels.append((node.x, node.y, txt))


collect(root)
pc = PatchCollection(patches, facecolors=fcs, edgecolors=ecs, linewidths=0.75)
ax.add_collection(pc)
for x, y, t in labels:
    ax.text(x, y + 3, t, ha="center", va="baseline", fontsize=7.2,
            family=["Noto Sans CJK SC", "DejaVu Sans"], color="black")

fig.savefig("out.png", dpi=100, facecolor="white")
